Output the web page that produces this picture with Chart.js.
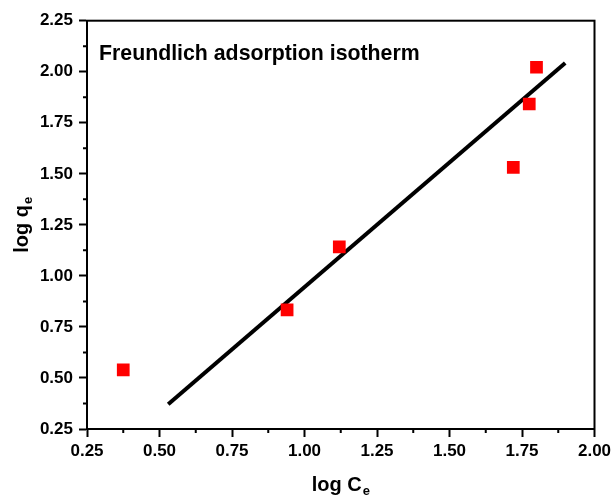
<!DOCTYPE html>
<html>
<head>
<meta charset="utf-8">
<script src="https://cdn.jsdelivr.net/npm/chart.js@4"></script>
<style>
html,body{margin:0;padding:0;background:#fff;}
#wrap{width:611px;height:496px;}
</style>
</head>
<body>
<div id="wrap"><canvas id="c" width="611" height="496"></canvas></div>
<script>
// Data
const logCe = [0.375, 0.94, 1.12, 1.72, 1.775, 1.80];
const logQe = [0.54, 0.833, 1.142, 1.532, 1.842, 2.022];
const fitX = [0.53, 1.899];
const fitY = [0.371, 2.043];
const xTicks = [0.25, 0.50, 0.75, 1.00, 1.25, 1.50, 1.75, 2.00];
const yTicks = [0.25, 0.50, 0.75, 1.00, 1.25, 1.50, 1.75, 2.00, 2.25];
const chartTitle = 'Freundlich adsorption isotherm';
const xTitle = ['log C', 'e'];
const yTitle = ['log q', 'e'];

const FONT = "'Liberation Sans', Arial, sans-serif";

const framePlugin = {
  id: 'frame',
  afterDraw(chart) {
    const ctx = chart.ctx;
    const a = chart.chartArea;
    const xs = chart.scales.x, ys = chart.scales.y;
    ctx.save();
    ctx.strokeStyle = '#000';
    ctx.lineWidth = 2;
    ctx.strokeRect(a.left, a.top, a.right - a.left, a.bottom - a.top);
    // minor ticks
    ctx.lineWidth = 2;
    ctx.beginPath();
    for (let i = 0; i < xTicks.length - 1; i++) {
      const px = xs.getPixelForValue((xTicks[i] + xTicks[i + 1]) / 2);
      ctx.moveTo(px, a.bottom);
      ctx.lineTo(px, a.bottom + 4);
    }
    for (let i = 0; i < yTicks.length - 1; i++) {
      const py = ys.getPixelForValue((yTicks[i] + yTicks[i + 1]) / 2);
      ctx.moveTo(a.left, py);
      ctx.lineTo(a.left - 4, py);
    }
    ctx.stroke();
    // chart title
    ctx.fillStyle = '#000';
    ctx.font = 'bold 21.3px ' + FONT;
    ctx.textAlign = 'left';
    ctx.textBaseline = 'alphabetic';
    ctx.fillText(chartTitle, 99, 60);
    // x axis title with subscript
    ctx.font = 'bold 20px ' + FONT;
    const w1 = ctx.measureText(xTitle[0]).width;
    ctx.font = 'bold 13px ' + FONT;
    const w2 = ctx.measureText(xTitle[1]).width;
    const cx = (a.left + a.right) / 2;
    let sx = cx - (w1 + w2 + 1) / 2;
    ctx.font = 'bold 20px ' + FONT;
    ctx.fillText(xTitle[0], sx, 491);
    ctx.font = 'bold 13px ' + FONT;
    ctx.fillText(xTitle[1], sx + w1 + 1, 495);
    // y axis title rotated
    ctx.translate(28, (a.top + a.bottom) / 2);
    ctx.rotate(-Math.PI / 2);
    ctx.font = 'bold 20px ' + FONT;
    const v1 = ctx.measureText(yTitle[0]).width;
    ctx.font = 'bold 13px ' + FONT;
    const v2 = ctx.measureText(yTitle[1]).width;
    sx = -(v1 + v2 + 1) / 2;
    ctx.font = 'bold 20px ' + FONT;
    ctx.fillText(yTitle[0], sx, 0);
    ctx.font = 'bold 13px ' + FONT;
    ctx.fillText(yTitle[1], sx + v1 + 1, 4);
    ctx.restore();
  }
};

new Chart(document.getElementById('c'), {
  type: 'scatter',
  data: {
    datasets: [
      {
        type: 'line',
        data: fitX.map((x, i) => ({x: x, y: fitY[i]})),
        borderColor: '#000',
        borderWidth: 4,
        pointRadius: 0,
        fill: false,
        order: 2
      },
      {
        data: logCe.map((x, i) => ({x: x, y: logQe[i]})),
        pointStyle: 'rect',
        pointRadius: 9,
        pointHoverRadius: 9,
        backgroundColor: '#ff0000',
        borderColor: '#ff0000',
        borderWidth: 0,
        order: 1
      }
    ]
  },
  options: {
    responsive: false,
    animation: false,
    events: [],
    layout: { padding: { left: 0, right: 16.5, top: 20.7, bottom: 0 } },
    plugins: { legend: { display: false }, tooltip: { enabled: false }, title: { display: false } },
    scales: {
      x: {
        type: 'linear',
        min: 0.25, max: 2.0,
        afterBuildTicks(s) { s.ticks = xTicks.map(v => ({value: v})); },
        afterFit(s) { s.height = 67; s.paddingLeft = 0; s.paddingRight = 0; },
        grid: { drawOnChartArea: false, tickLength: 8, tickWidth: 2, tickColor: '#000' },
        border: { display: true, color: '#000', width: 2 },
        ticks: {
          color: '#000', padding: 4, maxRotation: 0,
          font: { family: FONT, size: 17, weight: 'bold' },
          callback: v => v.toFixed(2)
        }
      },
      y: {
        type: 'linear',
        min: 0.25, max: 2.25,
        afterBuildTicks(s) { s.ticks = yTicks.map(v => ({value: v})); },
        afterFit(s) { s.width = 87; s.paddingTop = 0; s.paddingBottom = 0; },
        grid: { drawOnChartArea: false, tickLength: 8, tickWidth: 2, tickColor: '#000' },
        border: { display: true, color: '#000', width: 2 },
        ticks: {
          color: '#000', padding: 6,
          font: { family: FONT, size: 17, weight: 'bold' },
          callback: v => v.toFixed(2)
        }
      }
    }
  },
  plugins: [framePlugin]
});
</script>
</body>
</html>
